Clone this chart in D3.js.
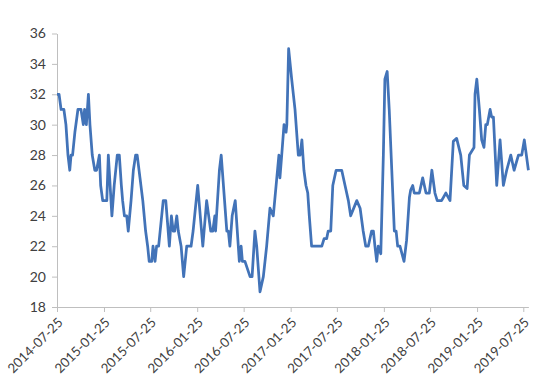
<!DOCTYPE html>
<html>
<head>
<meta charset="utf-8">
<script src="https://cdn.jsdelivr.net/npm/d3@7"></script>
<style>
html,body{margin:0;padding:0;background:#fff;}
svg{display:block;}
text{font-family:Lato,"Open Sans",sans-serif;fill:#404040;}
</style>
</head>
<body>
<svg id="chart" width="550" height="388"></svg>
<script>
const dates = [
"2014-07-25","2014-08-02","2014-08-10","2014-08-21","2014-08-29","2014-09-06","2014-09-13","2014-09-18","2014-09-24","2014-10-03",
"2014-10-15","2014-10-27","2014-11-05","2014-11-10","2014-11-17","2014-11-25","2014-12-01","2014-12-10","2014-12-20","2014-12-27",
"2015-01-07","2015-01-12","2015-01-20","2015-02-05","2015-02-11","2015-02-25","2015-03-06","2015-03-18","2015-03-26","2015-04-03",
"2015-04-08","2015-04-15","2015-04-24","2015-04-30","2015-05-11","2015-05-20","2015-05-29","2015-06-04","2015-06-15","2015-06-26",
"2015-07-07","2015-07-15","2015-07-21","2015-07-31","2015-08-05","2015-08-13","2015-08-19","2015-08-27","2015-09-14","2015-09-24",
"2015-10-08","2015-10-16","2015-10-23","2015-10-29","2015-11-06","2015-11-12","2015-11-23","2015-12-03","2015-12-15","2016-01-01",
"2016-01-09","2016-01-27","2016-02-16","2016-03-02","2016-03-18","2016-03-26","2016-04-03","2016-04-06","2016-04-21","2016-04-28",
"2016-05-20","2016-05-26","2016-06-01","2016-06-10","2016-06-22","2016-07-04","2016-07-08","2016-07-15","2016-07-20","2016-07-30",
"2016-08-19","2016-08-27","2016-09-07","2016-09-14","2016-09-27","2016-10-10","2016-10-23","2016-11-05","2016-11-18","2016-12-10",
"2016-12-14","2016-12-21","2016-12-30","2017-01-07","2017-01-10","2017-01-17","2017-01-29","2017-02-11","2017-02-24","2017-03-03",
"2017-03-10","2017-03-18","2017-03-26","2017-04-02","2017-04-08","2017-04-17","2017-05-27","2017-06-05","2017-06-15","2017-06-21",
"2017-07-01","2017-07-09","2017-07-22","2017-08-13","2017-08-26","2017-09-08","2017-09-17","2017-10-11","2017-10-24","2017-11-05",
"2017-11-15","2017-11-25","2017-12-08","2017-12-15","2017-12-21","2017-12-28","2018-01-03","2018-01-13","2018-01-23","2018-01-29",
"2018-02-07","2018-02-15","2018-02-25","2018-03-07","2018-03-14","2018-03-20","2018-03-29","2018-04-14","2018-04-24","2018-05-05",
"2018-05-10","2018-05-18","2018-05-24","2018-06-13","2018-06-26","2018-07-09","2018-07-22","2018-08-01","2018-08-13","2018-08-22",
"2018-09-08","2018-09-25","2018-10-11","2018-10-24","2018-11-06","2018-11-22","2018-12-04","2018-12-17","2018-12-26","2019-01-13",
"2019-01-17","2019-01-24","2019-02-03","2019-02-12","2019-02-21","2019-02-28","2019-03-06","2019-03-17","2019-03-23","2019-03-30",
"2019-04-12","2019-04-25","2019-05-08","2019-05-21","2019-06-06","2019-06-19","2019-07-06","2019-07-19","2019-07-29","2019-08-14"
];
const values = [
32,32,31,31,30,28,27,28,28,29.5,
31,31,30,31,30,32,30,28,27,27,
28,26,25,25,28,24,26,28,28,26,
25,24,24,23,25,27,28,28,26.5,25,
23,22,21,21,22,21,22,22,25,25,
22,24,23,23,24,23,22,20,22,22,
23,26,22,25,23,23,24,23,27,28,
23,23,22,24,25,22,21,22,21,21,
20,20,23,22,19,20,22,24.5,24,28,
26.5,28,30,29.5,30,35,33,31,28,28,
29,27,26,25.5,24,22,22,22.5,22.5,23,
23,26,27,27,26,25,24,25,24.5,23,
22,22,23,23,22,21,22,21.5,28,33,
33.5,31,27,23,23,22,22,21,22.4,25.2,
25.7,26,25.5,25.5,26.5,25.5,25.5,27,25.5,25,
25,25.5,25,28.9,29.1,28,26,25.8,28,28.5,
32,33,31,29,28.5,30,30,31,30.5,30.5,
26,29,26,27,28,27,28,28,29,27
];
const yTicks = [18,20,22,24,26,28,30,32,34,36];
const xTickLabels = ["2014-07-25","2015-01-25","2015-07-25","2016-01-25","2016-07-25","2017-01-25","2017-07-25","2018-01-25","2018-07-25","2019-01-25","2019-07-25"];

const parse = d3.timeParse("%Y-%m-%d");
const data = dates.map((d,i)=>({date:parse(d), value:values[i]}));

const svg = d3.select("#chart");
const mLeft = 57, mRight = 528.4, mTop = 33.5, mBottom = 307;

const x = d3.scaleTime()
  .domain(d3.extent(data, d=>d.date))
  .range([mLeft, mRight]);
const y = d3.scaleLinear().domain([18,36]).range([mBottom, mTop]);

// Y axis
const yAxis = svg.append("g").attr("transform",`translate(${mLeft},0)`)
  .call(d3.axisLeft(y).tickValues(yTicks).tickSize(5).tickSizeOuter(0).tickPadding(6).tickFormat(d3.format("d")));
yAxis.select(".domain").attr("stroke","#bfbfbf").attr("stroke-width",1);
yAxis.selectAll(".tick line").attr("stroke","#bfbfbf");
yAxis.selectAll(".tick text").style("font-size","14px").attr("fill","#404040");

// X axis
const xAxis = svg.append("g").attr("transform",`translate(0,${mBottom})`)
  .call(d3.axisBottom(x).tickValues(xTickLabels.map(parse)).tickSize(5).tickSizeOuter(0).tickFormat(d3.timeFormat("%Y-%m-%d")));
xAxis.select(".domain").attr("stroke","#bfbfbf").attr("stroke-width",1);
xAxis.selectAll(".tick line").attr("stroke","#bfbfbf");
xAxis.selectAll(".tick text")
  .style("font-size","13.3px").attr("fill","#404040")
  .attr("text-anchor","end")
  .attr("transform","translate(3,13) rotate(-45)")
  .attr("x",0).attr("y",0).attr("dy","0.35em");

// Line
const line = d3.line().x(d=>x(d.date)).y(d=>y(d.value));
svg.append("path").datum(data)
  .attr("fill","none")
  .attr("stroke","#4273b8")
  .attr("stroke-width",2.75)
  .attr("stroke-linejoin","round")
  .attr("d",line);
</script>
</body>
</html>
